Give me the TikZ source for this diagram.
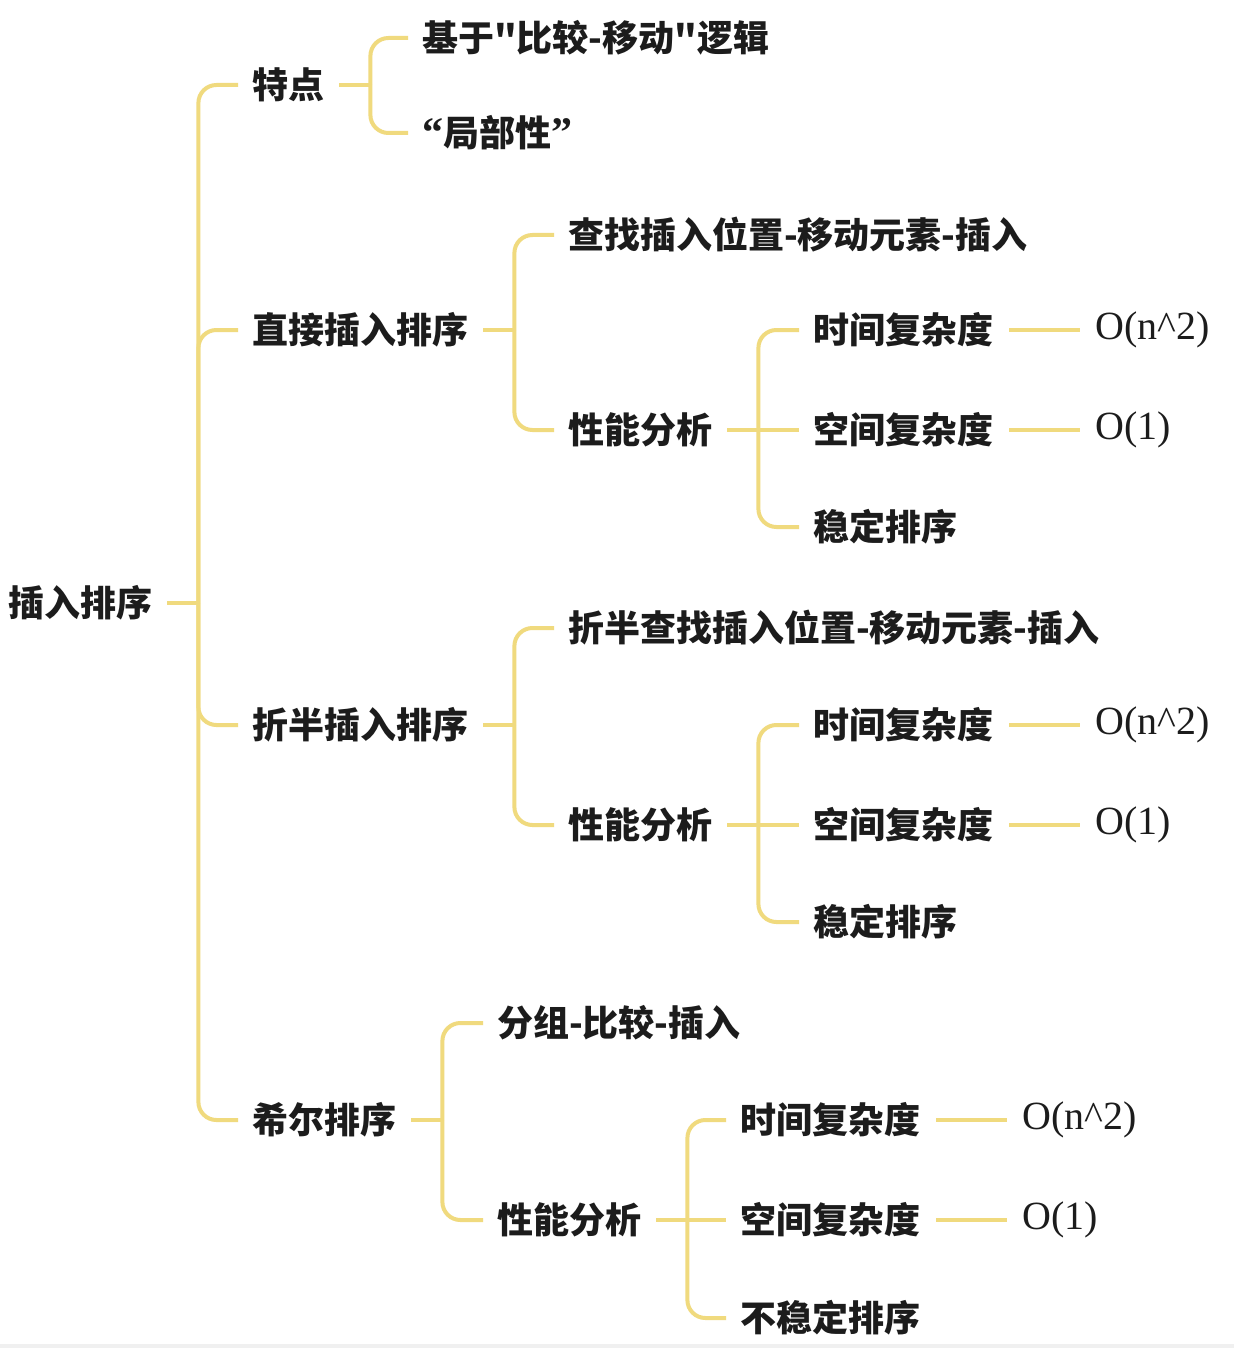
\documentclass[tikz,border=0pt]{standalone}
\usepackage{fontspec}
\newfontfamily\cjk{Noto Sans CJK SC}
\newfontfamily\serifnum{Liberation Serif}
\definecolor{linec}{HTML}{F0DA7E}
\definecolor{txt}{HTML}{1C1C1C}
\definecolor{strip}{HTML}{F0F0F0}
\newcommand\bquote[1]{{\serifnum\bfseries\fontsize{42}{44}\selectfont #1}}
\begin{document}
\begin{tikzpicture}[x=1pt,y=-1pt,
  lbl/.style={anchor=west, inner sep=0pt, text=txt,
    font=\cjk\bfseries\fontsize{36}{40}\selectfont},
  val/.style={anchor=west, inner sep=0pt, text=txt,
    font=\serifnum\fontsize{40}{44}\selectfont},
  link/.style={draw=linec, line width=4pt, rounded corners=18pt},
  plain/.style={draw=linec, line width=4pt},
]
% canvas and bottom strip
\fill[white] (0,0) rectangle (1234,1348);
\fill[strip] (0,1344) rectangle (1234,1348);
\useasboundingbox (0,0) rectangle (1234,1348);

% root
\node[lbl] (root) at (8,603) {插入排序};

% level 1
\node[lbl] (td) at (252,85) {特点};
\node[lbl] (zj) at (252,330) {直接插入排序};
\node[lbl] (zb) at (252,725) {折半插入排序};
\node[lbl] (xe) at (252,1120) {希尔排序};

% features
\node[lbl] (td1) at (422,38) {基于"比较-移动"逻辑};
\node[lbl] (td2) at (422,133) {\bquote{“}局部性\bquote{”}};

% straight insertion
\node[lbl] (zj1) at (568,235) {查找插入位置-移动元素-插入};
\node[lbl] (zjp) at (568,430) {性能分析};
\node[lbl] (zjt) at (813,330) {时间复杂度};
\node[lbl] (zjs) at (813,430) {空间复杂度};
\node[lbl] (zjw) at (813,527) {稳定排序};
\node[val] (zjtv) at (1095,330) {O(n\^{}2)};
\node[val] (zjsv) at (1095,430) {O(1)};

% binary insertion
\node[lbl] (zb1) at (568,628) {折半查找插入位置-移动元素-插入};
\node[lbl] (zbp) at (568,825) {性能分析};
\node[lbl] (zbt) at (813,725) {时间复杂度};
\node[lbl] (zbs) at (813,825) {空间复杂度};
\node[lbl] (zbw) at (813,922) {稳定排序};
\node[val] (zbtv) at (1095,725) {O(n\^{}2)};
\node[val] (zbsv) at (1095,825) {O(1)};

% shell sort
\node[lbl] (xe1) at (497,1023) {分组-比较-插入};
\node[lbl] (xep) at (497,1220) {性能分析};
\node[lbl] (xet) at (740,1120) {时间复杂度};
\node[lbl] (xes) at (740,1220) {空间复杂度};
\node[lbl] (xew) at (740,1318) {不稳定排序};
\node[val] (xetv) at (1022,1120) {O(n\^{}2)};
\node[val] (xesv) at (1022,1220) {O(1)};

% branch stubs from each parent to its trunk
\foreach \p in {root,td,zj,zjp,zb,zbp,xe,xep}
  \draw[plain] ([xshift=15pt]\p.east) -- ++(31,0) coordinate (\p-t);

% trunks with rounded elbows into children above or below the parent
\foreach \p/\c in {root/td,root/zj,root/zb,root/xe,
                   td/td1,td/td2,
                   zj/zj1,zj/zjp,zjp/zjt,zjp/zjw,
                   zb/zb1,zb/zbp,zbp/zbt,zbp/zbw,
                   xe/xe1,xe/xep,xep/xet,xep/xew}
  \draw[link] (\p-t) |- ([xshift=-14pt]\c.west);

% children level with their parent continue straight on
\foreach \p/\c in {zjp/zjs,zbp/zbs,xep/xes}
  \draw[plain] (\p-t) -- ([xshift=-14pt]\c.west);

% value links
\foreach \a/\b in {zjt/zjtv,zjs/zjsv,zbt/zbtv,zbs/zbsv,xet/xetv,xes/xesv}
  \draw[plain] ([xshift=16pt]\a.east) -- ([xshift=-15pt]\b.west);
\end{tikzpicture}
\end{document}
